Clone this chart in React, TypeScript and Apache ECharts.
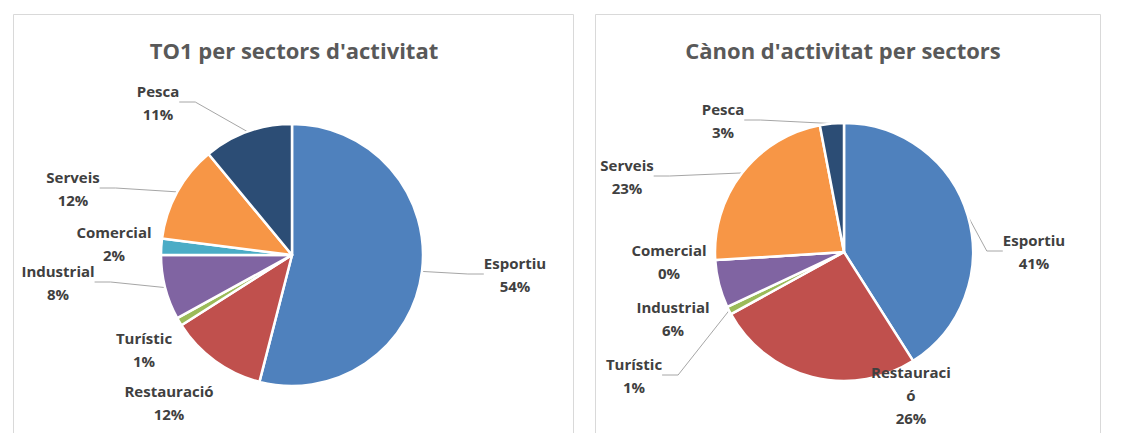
import React, { useEffect, useRef } from 'react';
import * as echarts from 'echarts';

const categories = ['Esportiu', 'Restauració', 'Turístic', 'Industrial', 'Comercial', 'Serveis', 'Pesca'];
const to1Values = [54, 12, 1, 8, 2, 12, 11];
const canonValues = [41, 26, 1, 6, 0, 23, 3];
const sliceColors = ['#4F81BD', '#C0504D', '#9BBB59', '#8064A2', '#4BACC6', '#F79646', '#2C4D75'];
const chartTitles = ["TO1 per sectors d'activitat", "Cànon d'activitat per sectors"];

// label placement (layout only, pixels)
const leftLabelPos = [[515, 274], [169, 402], [144, 349], [58, 282], [114, 243], [73, 188], [158, 102]];
const rightLabelPos = [[1034, 251], [911, 395], [634, 375], [673, 318], [669, 261], [627, 176], [723, 120]];
const leftLeader = [true, false, false, true, false, true, true];
const rightLeader = [true, false, true, false, false, true, true];

const FONT = '"Open Sans", Lato, sans-serif';

function makeSeries(
  values: number[],
  center: [number, number],
  radius: number,
  labelPos: number[][],
  leader: boolean[],
  wrapAt: number
) {
  return {
    type: 'pie',
    center,
    radius,
    startAngle: 90,
    clockwise: true,
    avoidLabelOverlap: false,
    data: categories.map((c, i) => ({
      name: c,
      value: values[i],
      itemStyle: { color: sliceColors[i] },
      labelLine: { show: leader[i] },
    })),
    itemStyle: { borderColor: '#ffffff', borderWidth: 2.5 },
    label: {
      show: true,
      position: 'outside',
      formatter: (p: any) => {
        const n: string = p.name;
        const nm = n.length > wrapAt ? n.slice(0, wrapAt) + '\n' + n.slice(wrapAt) : n;
        return `${nm}\n${p.value}%`;
      },
      fontFamily: FONT,
      fontWeight: 'bold',
      fontSize: 15,
      lineHeight: 23,
      color: '#404040',
    },
    labelLine: {
      show: true,
      length: 14,
      length2: 16,
      lineStyle: { color: '#A6A6A6', width: 1 },
    },
    labelLayout: (p: any) => {
      const pos = labelPos[p.dataIndex];
      return {
        x: pos[0],
        y: pos[1],
        align: 'center',
        verticalAlign: 'middle',
      };
    },
  };
}

export default function App() {
  const ref = useRef<HTMLDivElement>(null);
  useEffect(() => {
    if (!ref.current) return;
    const chart = echarts.init(ref.current, undefined, { renderer: 'svg' });
    chart.setOption({
      animation: false,
      backgroundColor: '#ffffff',
      graphic: [
        { type: 'rect', shape: { x: 13.5, y: 14.5, width: 560, height: 440 }, style: { fill: 'none', stroke: '#D9D9D9', lineWidth: 1 } },
        { type: 'rect', shape: { x: 595.5, y: 14.5, width: 505, height: 440 }, style: { fill: 'none', stroke: '#D9D9D9', lineWidth: 1 } },
        { type: 'text', x: 294, y: 50, style: { text: chartTitles[0], align: 'center', verticalAlign: 'middle', fontFamily: FONT, fontWeight: 'bold', fontSize: 22, fill: '#595959' } },
        { type: 'text', x: 843, y: 50, style: { text: chartTitles[1], align: 'center', verticalAlign: 'middle', fontFamily: FONT, fontWeight: 'bold', fontSize: 22, fill: '#595959' } },
      ],
      series: [
        makeSeries(to1Values, [292, 255], 131, leftLabelPos, leftLeader, 99),
        makeSeries(canonValues, [844, 252], 129, rightLabelPos, rightLeader, 10),
      ],
    });
    return () => chart.dispose();
  }, []);
  return <div ref={ref} style={{ position: 'absolute', left: 0, top: 0, width: 1125, height: 433 }} />;
}
